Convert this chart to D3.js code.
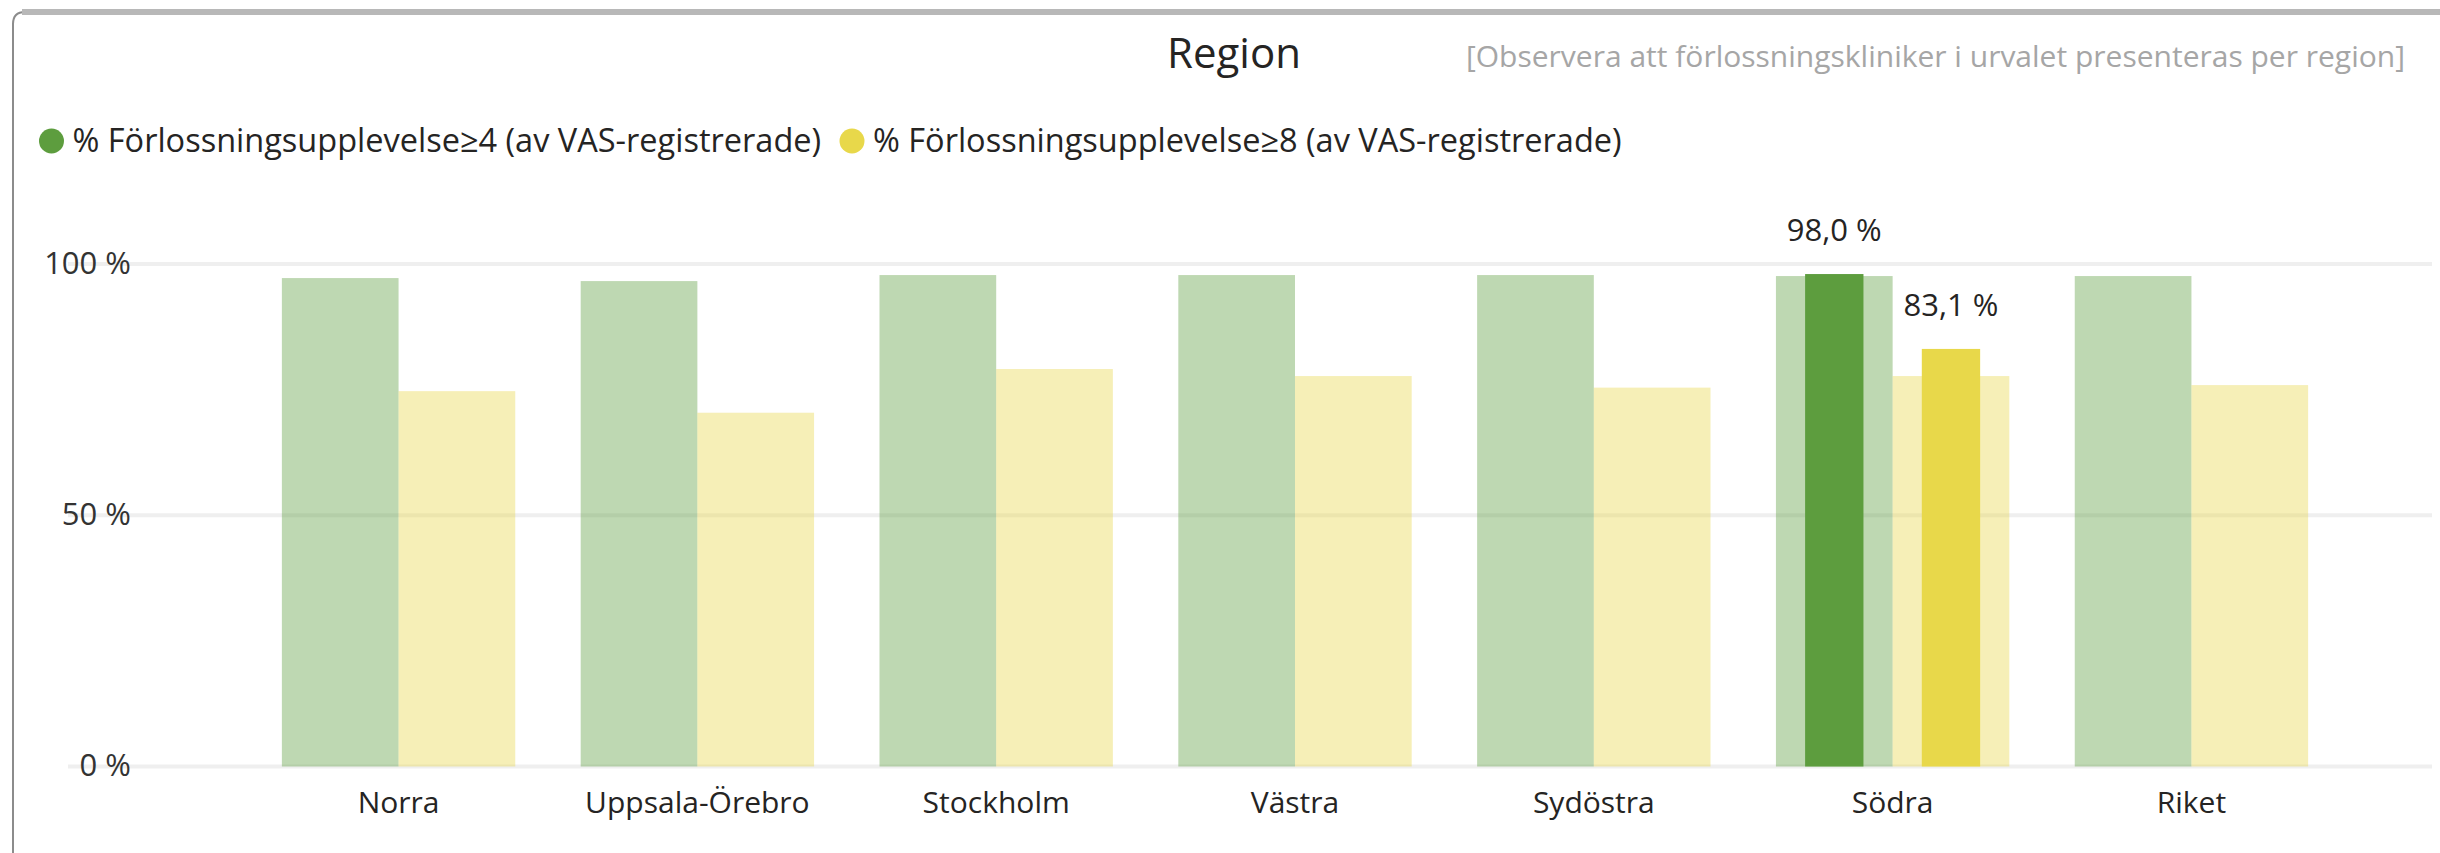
<!DOCTYPE html>
<html>
<head>
<meta charset="utf-8">
<script src="https://cdn.jsdelivr.net/npm/d3@7"></script>
<style>
  html, body { margin: 0; padding: 0; background: #fff; }
  svg { display: block; font-family: "Segoe UI", "Open Sans", sans-serif; }
</style>
</head>
<body>
<script>
// data
const categories = ["Norra", "Uppsala-Örebro", "Stockholm", "Västra", "Sydöstra", "Södra", "Riket"]
const seriesNames = ["% Förlossningsupplevelse≥4 (av VAS-registrerade)", "% Förlossningsupplevelse≥8 (av VAS-registrerade)"]
const allAtLeast4 = [97.2, 96.6, 97.8, 97.8, 97.8, 97.6, 97.6]
const allAtLeast8 = [74.7, 70.4, 79.1, 77.7, 75.4, 77.7, 75.9]
const selectedCategory = "Södra"
const selectedValues = [98.0, 83.1]
const yTicks = [0, 50, 100]
const colors = ["#5d9d3e", "#e8d84a"]

function setattrs(shape, dict) {
    for (let [prop, val] of Object.entries(dict)) {
        shape.attr(prop, val)
    }
}

const W = 2440, H = 853
const svg = d3.select("body").append("svg")
setattrs(svg, {"width": W, "height": H})

// frame of the visual
svg.append("path")
    .attr("d", `M 13 ${H} L 13 24 Q 13 12 25 12 L ${W} 12`)
    .attr("style", "fill:none; stroke:#8c8c8c; stroke-width:2;")
svg.append("rect")
    .attr("x", 22).attr("y", 9).attr("width", W - 22).attr("height", 6)
    .attr("fill", "#b8b8b8")

// header
svg.append("text").text("Region")
    .attr("x", 1234).attr("y", 68)
    .attr("text-anchor", "middle")
    .attr("font-size", 42).attr("fill", "#252423")

svg.append("text").text("[Observera att förlossningskliniker i urvalet presenteras per region]")
    .attr("x", 2405).attr("y", 67)
    .attr("text-anchor", "end")
    .attr("font-size", 30).attr("fill", "#a6a6a6")

// legend
const legendX = [51.5, 852]
seriesNames.forEach((name, i) => {
    svg.append("circle")
        .attr("cx", legendX[i]).attr("cy", 141).attr("r", 12.5)
        .attr("fill", colors[i])
    svg.append("text").text(name)
        .attr("x", legendX[i] + 21).attr("y", 152)
        .attr("font-size", 32.5).attr("fill", "#252423")
})

// scales
const x = d3.scaleBand().domain(categories).range([249, 2341])
    .paddingInner(0.219).paddingOuter(0.11)
const xs = d3.scaleBand().domain([0, 1]).range([0, x.bandwidth()])
const y = d3.scaleLinear().domain([0, 100]).range([766.5, 264])

// gridlines
svg.append("g").selectAll("line").data(yTicks).join("line")
    .attr("x1", 68).attr("x2", 2432)
    .attr("y1", d => y(d)).attr("y2", d => y(d))
    .attr("stroke", "#efefef").attr("stroke-width", 4)

const yAxis = d3.axisLeft(y).tickValues(yTicks).tickSize(0).tickPadding(0)
    .tickFormat(d => d + " %")
const ya = svg.append("g").attr("transform", "translate(131,0)").call(yAxis)
ya.select(".domain").remove()
ya.selectAll("text")
    .attr("font-size", 31).attr("fill", "#333")
    .attr("font-family", "'Segoe UI', 'Open Sans', sans-serif")
    .attr("dy", "0.3em")

// faded bars (all regions)
const rows = categories.map((c, i) => ({cat: c, vals: [allAtLeast4[i], allAtLeast8[i]]}))
const groups = svg.append("g").selectAll("g").data(rows).join("g")
    .attr("transform", d => `translate(${x(d.cat)},0)`)
groups.selectAll("rect").data(d => d.vals).join("rect")
    .attr("x", (d, i) => xs(i))
    .attr("width", xs.bandwidth())
    .attr("y", d => y(d))
    .attr("height", d => y(0) - y(d))
    .attr("fill", (d, i) => colors[i])
    .attr("fill-opacity", 0.4)

// highlighted bars for selected region
const hw = xs.bandwidth() / 2
const sel = svg.append("g").attr("transform", `translate(${x(selectedCategory)},0)`)
sel.selectAll("rect").data(selectedValues).join("rect")
    .attr("x", (d, i) => xs(i) + (xs.bandwidth() - hw) / 2)
    .attr("width", hw)
    .attr("y", d => y(d))
    .attr("height", d => y(0) - y(d))
    .attr("fill", (d, i) => colors[i])
sel.selectAll("text").data(selectedValues).join("text")
    .text(d => d.toFixed(1).replace(".", ",") + " %")
    .attr("x", (d, i) => xs(i) + xs.bandwidth() / 2)
    .attr("y", d => y(d) - 33)
    .attr("text-anchor", "middle")
    .attr("font-size", 31).attr("fill", "#252423")

// x axis labels
const xAxis = d3.axisBottom(x).tickSize(0).tickPadding(0)
const xa = svg.append("g").attr("transform", "translate(0,813)").call(xAxis)
xa.select(".domain").remove()
xa.selectAll("text")
    .attr("dy", 0).attr("y", 0)
    .attr("font-size", 30).attr("fill", "#252423")
    .attr("font-family", "'Segoe UI', 'Open Sans', sans-serif")
</script>
</body>
</html>
